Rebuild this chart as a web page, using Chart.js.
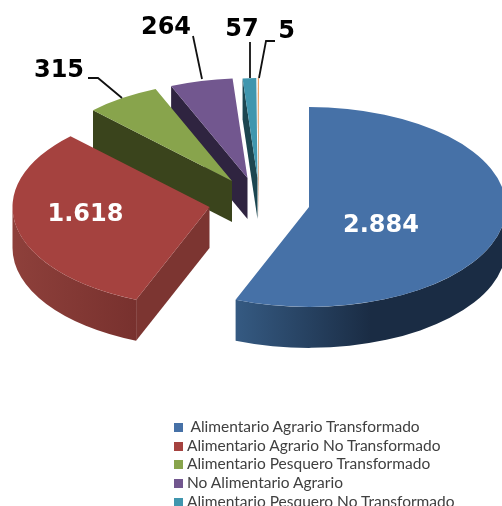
<!DOCTYPE html>
<html>
<head>
<meta charset="utf-8">
<script src="https://cdn.jsdelivr.net/npm/chart.js@4"></script>
<style>
  html, body { margin: 0; padding: 0; background: #fff; overflow: hidden; width: 502px; height: 506px; }
  #caja { position: relative; width: 502px; height: 506px; overflow: hidden; }
  #leyenda { position: absolute; left: 174px; top: 417px; font-family: Lato, sans-serif; font-size: 15.5px; color: #404040; white-space: pre; }
  #leyenda div { height: 18.7px; line-height: 18.7px; }
  #leyenda i { display: inline-block; width: 9px; height: 9px; margin-right: 4px; }
</style>
</head>
<body>
<div id="caja">
  <canvas id="grafica" width="502" height="506"></canvas>
  <div id="leyenda"></div>
</div>
<script>
// Datos
const categorias = [
  ' Alimentario Agrario Transformado',
  'Alimentario Agrario No Transformado',
  'Alimentario Pesquero Transformado',
  'No Alimentario Agrario',
  'Alimentario Pesquero No Transformado',
  ''
];
const valores = [2884, 1618, 315, 264, 57, 5];

// Colores
const colores = ['#4671a7', '#a5423f', '#88a44c', '#72578f', '#4096ae', '#eba56c'];
const coloresCorte = ['#2c4a6e', '#7c3531', '#3a441c', '#2f2440', '#1c4650', '#b0703c'];
const coloresBorde = [['#355a82', '#1a2c44'], ['#8e403b', '#78312e']];

// Desplazamiento de cada porcion respecto al centro (px)
const separacionX = [47, -52.5, -30, -14.5, -4.5, -3];
const separacionY = [5, 5, -21, -24, -24, -24];

// Posicion de las etiquetas y sus lineas guia
const etiquetasPos = [[381, 226], [85.5, 214.5], [59, 71], [166, 28], [242, 30], [286.5, 32]];
const etiquetasColor = ['#fff', '#fff', '#000', '#000', '#000', '#000'];
const guias = [null, null,
  [[88, 78], [98, 78], [122, 98]],
  [[193, 36], [202, 79]],
  [[250, 42], [250, 78]],
  [[275, 41], [266, 41], [259, 78]]
];

const centroX = 262;
const centroY = 202;
const aplastado = 0.507;
const grosor = 41;
const radio = 197;

const formato = (v) => String(v).replace(/\B(?=(\d{3})+$)/g, '.');

// Dibuja las caras laterales y la tapa de una porcion
function dibujarPorcion(ctx, arco, i) {
  const px = centroX + separacionX[i];
  const py = centroY + separacionY[i];
  const r = arco.outerRadius;
  const ry = r * aplastado;

  // Caras de corte visibles
  const cortes = [];
  if (Math.cos(arco.startAngle) < -0.001) cortes.push(arco.startAngle);
  if (Math.cos(arco.endAngle) > 0.001) cortes.push(arco.endAngle);
  cortes.forEach((a) => {
    const ex = px + Math.cos(a) * r;
    const ey = py + Math.sin(a) * ry;
    ctx.beginPath();
    ctx.moveTo(px, py);
    ctx.lineTo(ex, ey);
    ctx.lineTo(ex, ey + grosor);
    ctx.lineTo(px, py + grosor);
    ctx.closePath();
    ctx.fillStyle = coloresCorte[i];
    ctx.fill();
  });

  // Borde exterior, solo la parte que mira hacia abajo
  const ini = Math.max(arco.startAngle, 0);
  const fin = Math.min(arco.endAngle, Math.PI);
  if (fin > ini) {
    const x1 = px + Math.cos(fin) * r;
    const x2 = px + Math.cos(ini) * r;
    const grad = ctx.createLinearGradient(x1, 0, x1 + (x2 - x1) * (i === 0 ? 0.5 : 1), 0);
    const par = coloresBorde[i] || [coloresCorte[i], coloresCorte[i]];
    grad.addColorStop(0, par[0]);
    grad.addColorStop(1, par[1]);
    ctx.beginPath();
    ctx.ellipse(px, py, r, ry, 0, ini, fin);
    ctx.ellipse(px, py + grosor, r, ry, 0, fin, ini, true);
    ctx.closePath();
    ctx.fillStyle = grad;
    ctx.fill();
  }

  // Tapa: el arco de la propia libreria, aplastado y desplazado
  ctx.save();
  ctx.translate(px, py);
  ctx.scale(1, aplastado);
  ctx.translate(-arco.x, -arco.y);
  arco.draw(ctx);
  ctx.restore();
}

const pastel3d = {
  id: 'pastel3d',
  beforeDatasetDraw(chart, args) {
    const arcos = args.meta.data;
    // De atras hacia adelante
    for (let i = arcos.length - 1; i >= 0; i--) {
      dibujarPorcion(chart.ctx, arcos[i], i);
    }
    return false;
  },
  afterDraw(chart) {
    const ctx = chart.ctx;
    ctx.save();
    ctx.strokeStyle = '#111';
    ctx.lineWidth = 1.8;
    guias.forEach((g) => {
      if (!g) return;
      ctx.beginPath();
      g.forEach((p, n) => (n ? ctx.lineTo(p[0], p[1]) : ctx.moveTo(p[0], p[1])));
      ctx.stroke();
    });
    ctx.font = 'bold 24px "DejaVu Sans"';
    ctx.textAlign = 'center';
    ctx.textBaseline = 'middle';
    valores.forEach((v, i) => {
      ctx.fillStyle = etiquetasColor[i];
      ctx.fillText(formato(v), etiquetasPos[i][0], etiquetasPos[i][1]);
    });
    ctx.restore();
  }
};

const grafica = new Chart(document.getElementById('grafica'), {
  type: 'pie',
  data: {
    labels: categorias,
    datasets: [{
      data: valores,
      backgroundColor: colores,
      borderWidth: 0
    }]
  },
  options: {
    responsive: false,
    animation: false,
    radius: radio,
    plugins: {
      legend: { display: false },
      tooltip: { enabled: false }
    }
  },
  plugins: [pastel3d]
});

// Leyenda en HTML a partir de las etiquetas de la grafica
const leyenda = document.getElementById('leyenda');
grafica.options.plugins.legend.labels.generateLabels(grafica)
  .filter((item) => item.text !== '')
  .forEach((item) => {
    const fila = document.createElement('div');
    const marca = document.createElement('i');
    marca.style.background = item.fillStyle;
    fila.appendChild(marca);
    fila.appendChild(document.createTextNode(item.text));
    leyenda.appendChild(fila);
  });
</script>
</body>
</html>
